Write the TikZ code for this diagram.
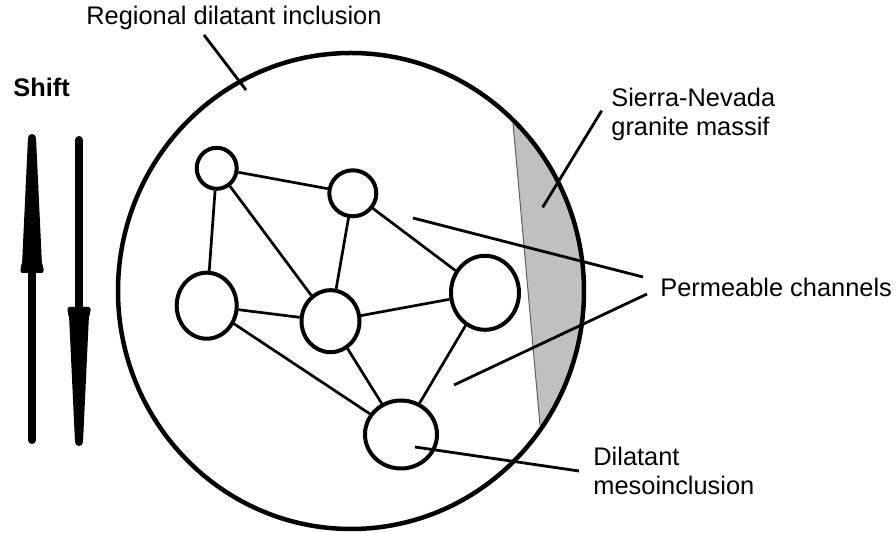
\documentclass[tikz,border=0pt]{standalone}
\usepackage{fontspec}
\setmainfont{Liberation Sans}
\usepackage{tikz}
\usetikzlibrary{shapes.geometric}

\begin{document}
\begin{tikzpicture}[x=0.5pt,y=-0.5pt,
    meso/.style={ellipse, draw, line width=2pt, inner sep=0pt, fill=white},
    chan/.style={line width=1.35pt},
    lead/.style={line width=1.4pt},
    lbl/.style={font=\fontsize{12.7}{14.5}\selectfont, inner sep=0pt, align=left},
    shaft/.style={line width=4pt, line cap=round},
    head/.style={fill=black, rounded corners=1pt}]
    \useasboundingbox (0,0) rectangle (896,533);
    \definecolor{massif}{RGB}{192,192,192}
    \definecolor{massifedge}{RGB}{96,96,96}

    % granite massif (grey lens)
    \begin{scope}
    \clip (351,291) ellipse [x radius=233, y radius=238];
    \fill[massif] (505,30) -- (513,123) -- (540,425) -- (547,500) -- (650,500) -- (650,30) -- cycle;
    \end{scope}
    \draw[massifedge, line width=0.5pt] (513,123) -- (540,425);

    % regional inclusion
    \draw[line width=2.25pt] (351,291) ellipse [x radius=233, y radius=238];

    % draw mesoinclusions
    \node[meso, minimum width=20pt, minimum height=20.5pt] (a) at (216.7,168.3) {};
    \node[meso, minimum width=23.5pt, minimum height=23pt] (b) at (352.8,193.3) {};
    \node[meso, minimum width=30pt, minimum height=33pt] (c) at (206.7,305.7) {};
    \node[meso, minimum width=29pt, minimum height=31pt] (d) at (330.5,321.2) {};
    \node[meso, minimum width=34pt, minimum height=37pt] (e) at (485,292.8) {};
    \node[meso, minimum width=36pt, minimum height=34pt] (f) at (401,434.5) {};

    % draw channels
    \draw[chan] (a) -- (b);%ab
    \draw[chan] (a) -- (c);%ac
    \draw[chan] (a) -- (d);%ad
    \draw[chan] (b) -- (d);%bd
    \draw[chan] (b) -- (e);%be
    \draw[chan] (c) -- (d);%cd
    \draw[chan] (d) -- (e);%de
    \draw[chan] (c) -- (f);%cf
    \draw[chan] (d) -- (f);%df
    \draw[chan] (e) -- (f);%ef

    % shift arrows
    \coordinate (up-tail) at (32,440);
    \coordinate (up-tip) at (32,138);
    \coordinate (down-tail) at (79,140);
    \coordinate (down-tip) at (79,442);
    \draw[shaft] (up-tail) -- (up-tip);
    \draw[shaft] (down-tail) -- (down-tip);
    \fill[head] (up-tip) ++(-4,0) -- ++(8,0) -- ++(6,127) -- ++(1.5,2) -- ++(0,6) -- ++(-23,0) -- ++(0,-6) -- ++(1.5,-2) -- cycle;
    \fill[head] (down-tip) ++(-4,0) -- ++(8,0) -- ++(6,-127) -- ++(1.5,-2) -- ++(0,-6) -- ++(-23,0) -- ++(0,6) -- ++(1.5,2) -- cycle;

    % labels
    \node[lbl, anchor=base west] (regional) at (86,25) {Regional dilatant inclusion};
    \node[lbl, anchor=base west, font=\fontsize{12.7}{14.5}\selectfont\bfseries] (shift) at (13,97) {Shift};
    \node[lbl, anchor=north west] (sierra) at (611,88) {Sierra-Nevada\\granite massif};
    \node[lbl, anchor=base west] (perm) at (660,297) {Permeable channels};
    \node[lbl, anchor=north west] (dil) at (593,447) {Dilatant\\mesoinclusion};

    % leader lines
    \coordinate (regional-end) at (204,35);
    \coordinate (regional-tip) at (246,90);
    \coordinate (sierra-end) at (601.7,110.7);
    \coordinate (sierra-tip) at (542.7,207.3);
    \coordinate (perm-end1) at (643,277);
    \coordinate (perm-tip1) at (413,218);
    \coordinate (perm-end2) at (647,294);
    \coordinate (perm-tip2) at (454,385);
    \coordinate (dil-end) at (579,471);
    \coordinate (dil-tip) at (415,447);
    \draw[lead] (regional-end) -- (regional-tip);
    \draw[lead] (sierra-end) -- (sierra-tip);
    \draw[lead] (perm-end1) -- (perm-tip1);
    \draw[lead] (perm-end2) -- (perm-tip2);
    \draw[lead] (dil-end) -- (dil-tip);
\end{tikzpicture}
\end{document}
